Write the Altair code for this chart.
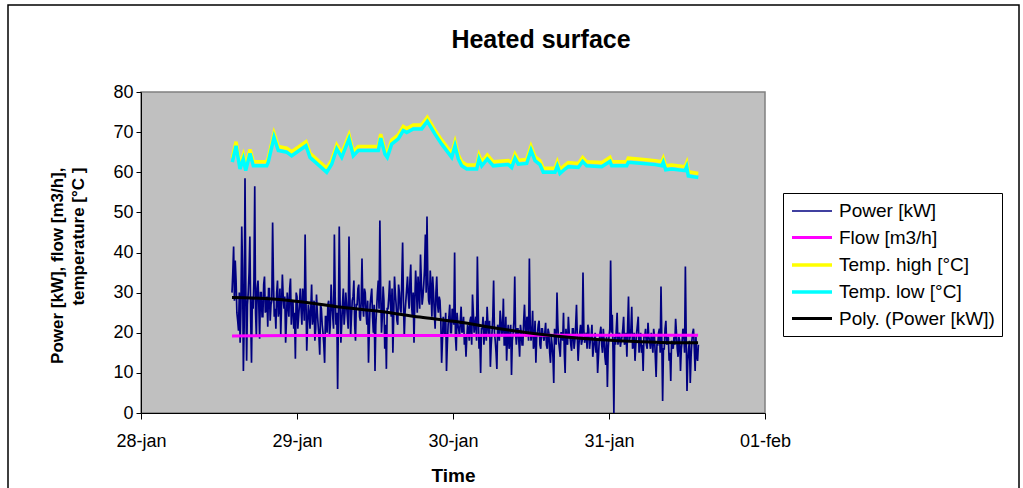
import json
import altair as alt
import pandas as pd

# ---- series definitions -------------------------------------------------
SERIES = ["Power [kW]", "Flow [m3/h]", "Temp. high [°C]", "Temp. low [°C]", "Poly. (Power [kW])"]
COLORS = ["#000080", "#FF00FF", "#FFFF00", "#00FFFF", "#000000"]
WIDTHS = [1.7, 3.0, 3.5, 3.5, 3.0]

TITLE = "Heated surface"

# x axis: hours since 28-jan 00:00, one tick per day
DAY_TICKS = [0, 24, 48, 72, 96]
DAY_LABELS = ["28-jan", "29-jan", "30-jan", "31-jan", "01-feb"]

# Power [kW], logged every 7.5 minutes from 28-jan 14:00.
# power_kw_a holds the readings on the quarter hour, power_kw_b the
# readings 7.5 minutes later.
POWER_START_H = 14.0
POWER_STEP_H = 0.125
power_kw_a = [
    30, 41.5, 38, 25, 20.5, 17.5, 46.5, 10.5, 58.5, 13, 30, 44, 12.5, 26, 56.5, 19,
    33, 18.5, 30, 24, 34, 26, 21.5, 31, 27, 47.5, 24, 21, 33, 26, 19.5, 34.5,
    26, 17.5, 30, 24, 33.5, 27, 21, 13.5, 29, 24, 31, 22, 28, 44.5, 15.5, 27,
    21, 32, 24, 18, 29.5, 22, 14.5, 26, 20, 12.5, 24, 27, 19, 32, 24, 44.5,
    22, 6, 46.5, 17.5, 27, 22, 30, 24, 44, 19, 28, 33, 18, 27, 32, 23,
    38.5, 24, 30, 22, 12.5, 27, 31, 20, 10.5, 26, 33, 48, 20, 31.5, 16, 11,
    26, 33, 24, 15, 34, 27, 22, 30, 25, 42.5, 19, 28, 34, 26, 37, 24,
    17.5, 35.5, 25, 30, 39.5, 27, 32, 44.5, 49, 28, 35.5, 24, 30, 21, 34, 25,
    28, 12.5, 24, 19, 10.5, 22, 27, 20, 24, 40, 15.5, 22, 19, 26.5, 21, 17,
    14, 22, 18, 24, 29.5, 20, 24, 39, 16, 10, 21, 17, 23, 26.5, 19, 11.5,
    20, 33, 18, 11, 21, 25.5, 19, 28.5, 17, 13, 22, 18, 9.5, 20, 34, 17,
    21, 14, 20, 17, 27, 19, 23, 38.5, 18, 25.5, 17, 12.5, 20, 23, 16, 21,
    18, 22.5, 16, 20, 12.5, 17, 7.5, 19, 30, 18, 14, 20, 25, 10, 18, 24,
    19, 15.5, 21, 18, 27, 13, 20, 17, 35, 17.5, 20, 22, 16, 19, 14, 18,
    15, 10, 18, 21.5, 15, 18, 12, 6.5, 19, 38, 24.5, 0, 17, 25, 19, 16.5,
    19, 24, 18, 14, 29, 19, 26.5, 17, 13, 20, 24, 18, 15, 10.5, 19, 17,
    22.5, 18, 20, 15, 19, 9, 17, 21, 31.5, 3, 16, 23, 18, 13, 8, 17,
    19, 23.5, 16, 19, 10.5, 18, 20, 36.5, 5.5, 16, 7.5, 18, 21, 10.5, 14, 17,
]
power_kw_b = [
    35, 28, 33, 23, 30, 26, 36, 22, 31, 27, 35, 24, 29, 33, 25, 31,
    27, 30, 24, 32, 25, 29, 31, 23, 28, 33, 26, 30, 24, 31, 27, 29,
    29, 23, 27, 31, 22, 28, 25, 30, 21, 27, 26, 31, 23, 29, 22, 25,
    26, 22, 28, 21, 25, 19, 27, 22, 17, 24, 20, 28, 22, 27, 21, 29,
    25, 24, 28, 22, 31, 25, 27, 21, 30, 24, 29, 22, 27, 31, 24, 28,
    27, 31, 25, 28, 21, 29, 24, 27, 22, 30, 26, 31, 24, 28, 22, 26,
    29, 27, 31, 24, 30, 23, 32, 26, 33, 28, 25, 31, 29, 33, 27, 30,
    28, 31, 34, 26, 33, 29, 36, 30, 33, 27, 31, 34, 25, 30, 27, 29,
    23, 18, 21, 25, 17, 24, 20, 26, 22, 19, 25, 21, 23, 20, 24, 19,
    19, 21, 23, 17, 25, 22, 18, 26, 19, 21, 24, 20, 18, 22, 23, 17,
    24, 20, 15, 22, 18, 23, 21, 17, 24, 19, 16, 22, 18, 23, 20, 21,
    18, 22, 17, 23, 21, 24, 18, 22, 20, 16, 23, 19, 22, 17, 21, 19,
    20, 17, 21, 15, 19, 14, 21, 17, 22, 16, 20, 18, 15, 21, 17, 20,
    17, 21, 16, 22, 19, 17, 22, 18, 21, 19, 16, 21, 18, 22, 16, 20,
    18, 14, 20, 17, 21, 14, 19, 16, 21, 20, 15, 19, 21, 17, 20, 18,
    21, 17, 20, 22, 18, 21, 16, 20, 17, 22, 15, 20, 17, 19, 21, 16,
    19, 16, 18, 21, 14, 17, 20, 15, 18, 16, 21, 17, 19, 15, 18, 16,
    17, 20, 14, 18, 16, 21, 15, 19, 13, 18, 14, 20, 16, 19, 13,
]
power_kw = []
for i, a in enumerate(power_kw_a):
    power_kw.append(a)
    if i < len(power_kw_b):
        power_kw.append(power_kw_b[i])
power_hours = [POWER_START_H + i * POWER_STEP_H for i in range(len(power_kw))]

# Flow [m3/h]
flow_hours = [14.0, 24.0, 36.0, 48.0, 60.0, 72.0, 85.7]
flow_m3h = [19.2, 19.3, 19.3, 19.3, 19.4, 19.4, 19.4]

# Supply / return temperatures [°C]
temp_hours = [
    14.05, 14.62, 15.23, 15.74, 16.11, 16.77, 17.28, 19.34, 19.58, 20.46,
    21.12, 22.42, 23.18, 25.38, 26.0, 28.57, 29.34, 30.11, 30.88, 32.0,
    32.66, 33.43, 36.51, 36.88, 37.54, 37.89, 38.57, 39.58, 40.35, 40.88,
    41.89, 43.18, 44.05, 45.23, 46.26, 47.8, 48.31, 48.82, 49.34, 50.11,
    51.65, 52.0, 52.42, 53.28, 54.2, 56.51, 57.03, 57.54, 58.05, 59.34,
    60.0, 60.62, 61.38, 61.89, 63.69, 64.05, 64.46, 65.23, 65.74, 67.28,
    67.95, 68.57, 70.88, 72.15, 72.42, 74.72, 74.97, 77.28, 79.08, 80.11,
    80.35, 80.72, 81.65, 83.69, 83.95, 84.2, 85.74,
]
temp_high = [
    63.5, 67.6, 61.8, 64.3, 61.4, 65.7, 62.6, 62.6, 63.5, 69.7,
    66.4, 66.0, 65.1, 67.6, 64.7, 61.0, 63.0, 66.8, 64.7, 69.3,
    65.1, 66.4, 66.4, 69.5, 65.5, 64.7, 68.0, 69.3, 71.4, 70.9,
    71.8, 71.8, 73.7, 70.5, 68.0, 64.7, 67.6, 64.3, 62.6, 61.8,
    61.8, 64.3, 62.6, 64.3, 62.6, 62.9, 62.2, 64.5, 63.0, 63.2,
    66.5, 63.9, 62.9, 61.0, 61.0, 62.6, 60.7, 61.8, 62.4, 62.2,
    63.7, 62.6, 62.4, 63.7, 62.6, 62.6, 63.5, 63.2, 62.9, 62.6,
    63.5, 61.6, 61.8, 61.4, 62.4, 60.1, 59.7,
]
temp_low = [
    62.5, 66.6, 60.8, 63.3, 60.4, 64.7, 61.6, 61.6, 62.5, 68.7,
    65.4, 65.0, 64.1, 66.6, 63.7, 60.0, 62.0, 65.8, 63.7, 68.3,
    64.1, 65.4, 65.4, 68.5, 64.5, 63.7, 67.0, 68.3, 70.4, 69.9,
    70.8, 70.8, 72.7, 69.5, 67.0, 63.7, 66.6, 63.3, 61.6, 60.8,
    60.8, 63.3, 61.6, 63.3, 61.6, 61.9, 61.2, 63.5, 62.0, 62.2,
    65.5, 62.9, 61.9, 60.0, 60.0, 61.6, 59.7, 60.8, 61.4, 61.2,
    62.7, 61.6, 61.4, 62.7, 61.6, 61.6, 62.5, 62.2, 61.9, 61.6,
    62.5, 60.6, 60.8, 60.4, 61.4, 59.1, 58.7,
]

# Polynomial trendline of the power series
trend_hours = [14.0, 20.3, 25.2, 30.6, 36.9, 42.9, 49.1, 55.2, 61.4, 67.5, 73.4, 79.8, 85.7]
trend_kw = [28.8, 28.4, 27.6, 26.4, 25.3, 23.9, 22.6, 21.0, 19.6, 18.6, 18.0, 17.6, 17.5]

Y_TITLE = ["Power [kW], flow [m3/h],", "temperature [°C ]"]

# ---- layout (pixels) ----------------------------------------------------
PLOT_W, PLOT_H = 624, 321
PAD = {"left": 141, "top": 92, "right": 258, "bottom": 75}
FONT = "Liberation Sans"


def frame(hours, values, name):
    return pd.DataFrame({"hours": hours, "value": values, "series": name})


color_enc = alt.Color(
    "series:N",
    scale=alt.Scale(type="ordinal", domain=SERIES, range=COLORS),
    legend=alt.Legend(title=None, symbolType="M-1,0H3", symbolSize=400),
)
width_enc = alt.StrokeWidth(
    "series:N",
    scale=alt.Scale(type="ordinal", domain=SERIES, range=WIDTHS),
    legend=alt.Legend(title=None, symbolType="M-1,0H3", symbolSize=400),
)

label_expr = "%s[round(datum.value / 24)]" % json.dumps(DAY_LABELS)

x_enc = alt.X(
    "hours:Q",
    scale=alt.Scale(domain=[0, 96], nice=False, zero=False),
    axis=alt.Axis(
        values=DAY_TICKS,
        labelExpr=label_expr,
        labelFlush=False,
        title="Time",
        tickSize=6,
        labelPadding=13,
        labelFontSize=18,
        titleFontSize=19,
        titleY=62,
        titleBaseline="middle",
    ),
)
y_enc = alt.Y(
    "value:Q",
    scale=alt.Scale(domain=[0, 80], nice=False),
    axis=alt.Axis(
        values=list(range(0, 81, 10)),
        title=Y_TITLE,
        tickSize=5,
        labelPadding=3,
        labelFontSize=18,
        titleFontSize=17,
        titleAngle=270,
        titleAlign="right",
        titleBaseline="middle",
        titleX=-84,
        titleY=75,
        titleLineHeight=21,
    ),
)


def series_layer(df, interpolate="linear"):
    return alt.Chart(df).mark_line(interpolate=interpolate, strokeCap="butt").encode(
        x=x_enc, y=y_enc, color=color_enc, strokeWidth=width_enc
    )


one_row = pd.DataFrame({"k": [0]})

# outer chart-area border
border = alt.Chart(one_row).mark_rect(
    fill="white", fillOpacity=0, stroke="#000000", strokeWidth=1.5
).encode(
    x=alt.value(-133), x2=alt.value(878), y=alt.value(-87), y2=alt.value(420)
)

# chart title, centred on the whole chart area
title = alt.Chart(one_row).mark_text(
    text=TITLE, font=FONT, fontSize=25, fontWeight="bold", color="#000000",
    align="center", baseline="alphabetic",
).encode(x=alt.value(400), y=alt.value(-44))

chart = alt.layer(
    border,
    title,
    series_layer(frame(power_hours, power_kw, SERIES[0])),
    series_layer(frame(flow_hours, flow_m3h, SERIES[1])),
    series_layer(frame(temp_hours, temp_high, SERIES[2])),
    series_layer(frame(temp_hours, temp_low, SERIES[3])),
    series_layer(frame(trend_hours, trend_kw, SERIES[4]), interpolate="monotone"),
).properties(
    width=PLOT_W,
    height=PLOT_H,
    padding=PAD,
    autosize=alt.AutoSizeParams(type="none"),
).configure(
    background="white",
    font=FONT,
).configure_view(
    fill="#C0C0C0", stroke="#808080", strokeWidth=1.5
).configure_axis(
    grid=False,
    domainColor="#000000",
    domainWidth=1,
    tickColor="#000000",
    labelColor="#000000",
    titleColor="#000000",
    labelFont=FONT,
    titleFont=FONT,
    titleFontWeight="bold",
).configure_legend(
    orient="none",
    legendX=642,
    legendY=101,
    direction="vertical",
    fillColor="white",
    strokeColor="#000000",
    padding=7,
    labelFont=FONT,
    labelFontSize=19,
    labelColor="#000000",
    labelOffset=25,
    labelLimit=400,
    rowPadding=5,
)

chart.save("out.html", embed_options={"renderer": "svg", "actions": False})
